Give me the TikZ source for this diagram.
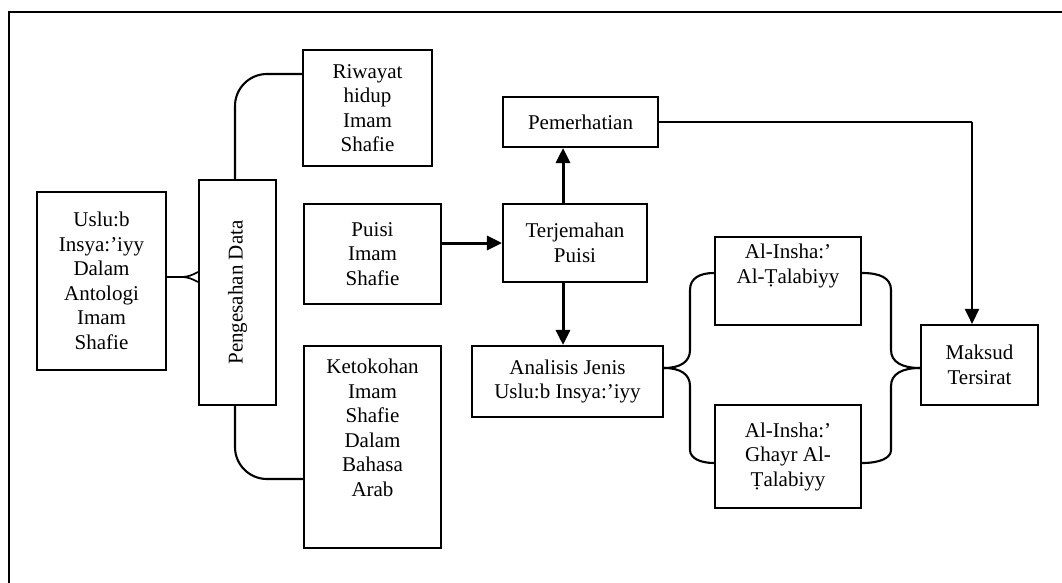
\documentclass[tikz,border=0pt]{standalone}
\usepackage{fontspec}
\setmainfont{Liberation Serif}
\usetikzlibrary{arrows.meta}
\begin{document}
\begin{tikzpicture}[x=1pt,y=-1pt,
  box/.style={draw,line width=2.1pt,inner sep=0pt,align=center,font=\fontsize{21}{24.5}\selectfont},
  lbl/.style={inner sep=0pt,align=center,font=\fontsize{21}{24.5}\selectfont},
  conn/.style={line width=2.1pt},
  arr/.style={line width=3pt,-{Triangle[length=15pt,width=14pt]}},
  arrthin/.style={line width=2.4pt,-{Triangle[length=15pt,width=14pt]}}]
\useasboundingbox (0,0) rectangle (1062,583);
% outer frame (only top and left visible)
\draw[line width=2.2pt] (9,583) -- (9,12) -- (1062,12);
% boxes
\node[box,minimum width=129pt,minimum height=178pt] (uslu) at (101.5,281) {Uslu:b\\Insya:’iyy\\Dalam\\Antologi\\Imam\\Shafie};
\node[box,minimum width=77pt,minimum height=225pt] (pen) at (237.5,292.5) {\rotatebox{90}{Pengesahan Data}};
\node[box,minimum width=129pt,minimum height=116pt] (riw) at (367.5,108) {Riwayat\\hidup\\Imam\\Shafie};
\node[box,minimum width=137pt,minimum height=100pt] (pui) at (372.5,254) {Puisi\\Imam\\Shafie};
\node[box,minimum width=137pt,minimum height=202pt] (ket) at (372.5,447) {};
\node[lbl,anchor=north] (ketl) at ([yshift=-14pt]ket.north) {Ketokohan\\Imam\\Shafie\\Dalam\\Bahasa\\Arab};
\node[box,minimum width=155pt,minimum height=50pt] (pem) at (580.5,122) {Pemerhatian};
\node[box,minimum width=144pt,minimum height=78pt] (ter) at (575,243) {Terjemahan\\Puisi};
\node[box,minimum width=191pt,minimum height=71pt] (ana) at (567.5,381.5) {Analisis Jenis\\Uslu:b Insya:’iyy};
\node[box,minimum width=146pt,minimum height=88pt] (tal) at (788,281) {};
\node[lbl,anchor=north] (tall) at ([yshift=-8pt]tal.north) {Al-Insha:’\\Al-Ṭalabiyy};
\node[box,minimum width=146pt,minimum height=103pt] (gha) at (788,456.5) {Al-Insha:’\\Ghayr Al-\\Ṭalabiyy};
\node[box,minimum width=117pt,minimum height=80pt] (mak) at (979.5,365) {Maksud\\Tersirat};
% crow's foot between uslu and pen
\coordinate (cf) at (183,277);
\draw[conn] (uslu.east |- cf) -- (cf);
\draw[line width=1.7pt] (cf) .. controls (190,276) .. (pen.west |- 0,272);
\draw[line width=1.7pt] (cf) .. controls (190,278) .. (pen.west |- 0,282);
% pen to riwayat and ketokohan
\draw[conn,rounded corners=32pt] ([xshift=-2.5pt]pen.north) |- (riw.west |- 0,74);
\draw[conn,rounded corners=32pt] ([xshift=-2.5pt]pen.south) |- (ket.west |- 0,479);
% arrows
\draw[arr] (pui.east |- ter.west) -- (ter.west);
\draw[arr] ([xshift=-12pt]ter.north) -- ([xshift=-12pt]ter.north |- pem.south);
\draw[arr] ([xshift=-12pt]ter.south) -- ([xshift=-12pt]ter.south |- ana.north);
\coordinate (pc) at (972,122);
\draw[line width=2.2pt] (pem.east) -- (pc);
\draw[arrthin] (pc) -- (pc |- mak.north);
% left brace
\draw[conn] (ana.east |- 0,368) .. controls (680,368) and (690,362) .. (690,350) -- (690,290) .. controls (690,278) and (700,273) .. (tal.west |- 0,273);
\draw[conn] (ana.east |- 0,368) .. controls (680,368) and (690,374) .. (690,386) -- (690,450) .. controls (690,458) and (700,463) .. (gha.west |- 0,463);
% right brace
\draw[conn] (tal.east |- 0,273) .. controls (880,273) and (891,278) .. (891,290) -- (891,350) .. controls (891,362) and (902,368) .. (mak.west |- 0,368);
\draw[conn] (gha.east |- 0,463) .. controls (880,463) and (891,458) .. (891,450) -- (891,386) .. controls (891,374) and (902,368) .. (mak.west |- 0,368);
\end{tikzpicture}
\end{document}
